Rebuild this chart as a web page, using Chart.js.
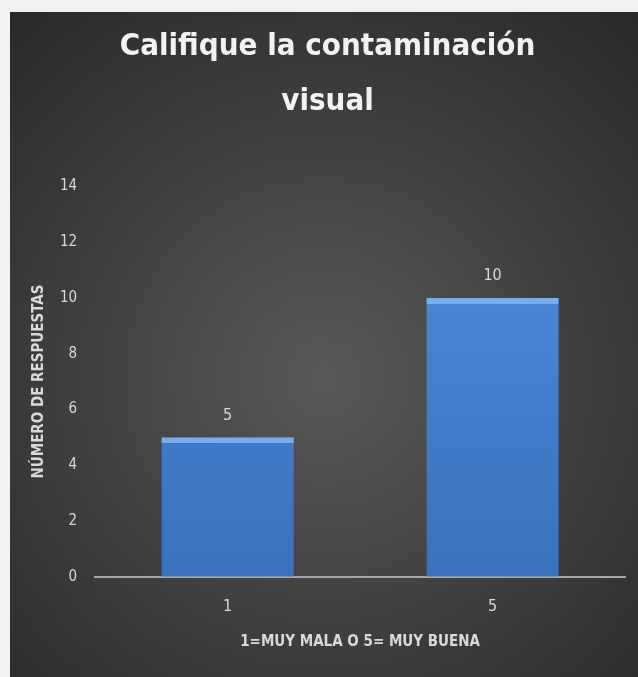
<!DOCTYPE html>
<html>
<head>
<meta charset="utf-8">
<script src="https://cdn.jsdelivr.net/npm/chart.js@4.4.0/dist/chart.umd.min.js"></script>
<style>
  body { margin: 0; background: #f2f2f2; }
  #wrap { position: absolute; left: 10px; top: 12px; width: 628px; height: 665px; }
</style>
</head>
<body>
<div id="wrap"><canvas id="grafico"></canvas></div>
<script>
var categorias = ["1", "5"];
var respuestas = [5, 10];
var ejeYMin = 0;
var ejeYMax = 14;
var ejeYPaso = 2;

var fuente = "'Liberation Sans Narrow', 'DejaVu Sans Condensed', sans-serif";

// fondo gris oscuro con degradado radial
var fondo = {
    id: "fondo",
    beforeDraw: function (chart) {
        var c = chart.ctx, w = chart.width, h = chart.height;
        var g = c.createRadialGradient(w / 2, h * 0.55, 0, w / 2, h * 0.55, Math.max(w, h) * 0.72);
        g.addColorStop(0, "#585858");
        g.addColorStop(1, "#292929");
        c.save();
        c.fillStyle = g;
        c.fillRect(0, 0, w, h);
        c.restore();
    }
};

// valores encima de cada barra
var etiquetas = {
    id: "etiquetas",
    afterDatasetsDraw: function (chart) {
        var c = chart.ctx;
        var meta = chart.getDatasetMeta(0);
        c.save();
        c.font = "16px " + fuente;
        c.fillStyle = "#d9d9d9";
        c.textAlign = "center";
        c.textBaseline = "bottom";
        meta.data.forEach(function (bar, i) {
            c.fillText(respuestas[i], bar.x, bar.y - 14);
        });
        c.restore();
    }
};

var ctx = document.getElementById("grafico");

var data = {
    labels: categorias,
    datasets: [{
        data: respuestas,
        backgroundColor: function (context) {
            var area = context.chart.chartArea;
            if (!area) return "#4582d0";
            var g = context.chart.ctx.createLinearGradient(0, area.top, 0, area.bottom);
            g.addColorStop(0, "#4f8bd9");
            g.addColorStop(1, "#3a71bf");
            return g;
        },
        borderColor: "#78aeee",
        borderWidth: { top: 6, left: 0, right: 0, bottom: 0 },
        borderSkipped: false,
        categoryPercentage: 1,
        barPercentage: 0.5
    }]
};

var options = {
    responsive: true,
    maintainAspectRatio: false,
    animation: false,
    layout: { padding: { left: 20, right: 13, top: 0, bottom: 22 } },
    plugins: {
        legend: { display: false },
        tooltip: { enabled: false },
        title: {
            display: true,
            text: ["Califique la contaminación", "visual"],
            color: "#f2f2f2",
            font: { family: fuente, size: 31, weight: "bold", lineHeight: 1.78 },
            padding: { top: 7, bottom: 57 }
        }
    },
    scales: {
        x: {
            grid: { display: false, drawTicks: false },
            border: { display: true, color: "#a6a6a6", width: 2 },
            ticks: { color: "#d9d9d9", font: { family: fuente, size: 16 }, padding: 20 },
            title: {
                display: true,
                text: "1=MUY MALA O 5= MUY BUENA",
                color: "#d9d9d9",
                font: { family: fuente, size: 15, weight: "bold" },
                padding: { top: -3 }
            }
        },
        y: {
            min: ejeYMin,
            max: ejeYMax,
            grid: { display: false, drawTicks: false },
            border: { display: false },
            ticks: { stepSize: ejeYPaso, color: "#d9d9d9", font: { family: fuente, size: 15 }, padding: 18 },
            title: {
                display: true,
                text: "NÚMERO DE RESPUESTAS",
                color: "#d9d9d9",
                font: { family: fuente, size: 15, weight: "bold" },
                padding: { top: 0, bottom: -6 }
            }
        }
    }
};

var chart = new Chart(ctx, {
    type: "bar",
    data: data,
    options: options,
    plugins: [fondo, etiquetas]
});
</script>
</body>
</html>
